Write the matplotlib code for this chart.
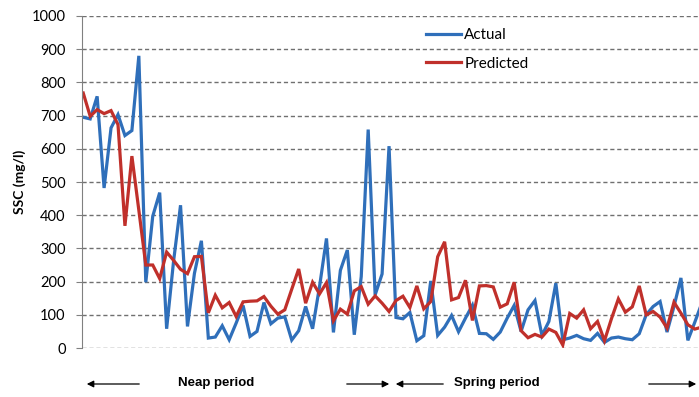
import matplotlib.pyplot as plt
import numpy as np

# SSC series, one value per sample
actual = [695, 690, 758, 482, 663, 703, 640, 655, 880, 198,
          397, 468, 58, 262, 430, 65, 225, 323, 30, 33,
          67, 25, 75, 128, 35, 50, 137, 73, 90, 94,
          24, 52, 125, 58, 185, 330, 47, 234, 295, 40,
          215, 658, 160, 223, 608, 92, 88, 107, 22, 37,
          202, 38, 63, 98, 49, 90, 129, 44, 43, 26,
          48, 90, 128, 50, 115, 143, 38, 80, 195, 25,
          30, 38, 28, 23, 44, 17, 30, 33, 28, 25,
          43, 100, 125, 140, 48, 125, 211, 23, 78, 135]
predicted = [768, 698, 718, 706, 715, 673, 368, 578, 415, 250,
             250, 209, 289, 264, 237, 224, 275, 276, 106, 159,
             121, 137, 95, 139, 141, 142, 155, 126, 102, 115,
             177, 238, 135, 198, 163, 197, 82, 117, 102, 172,
             185, 132, 157, 135, 110, 143, 156, 122, 187, 118,
             140, 275, 320, 145, 152, 204, 83, 187, 188, 184,
             123, 133, 198, 52, 31, 41, 33, 57, 47, 9,
             104, 90, 115, 58, 80, 22, 88, 148, 108, 124,
             187, 100, 110, 93, 60, 138, 105, 70, 57, 63]
series_names = ['Actual', 'Predicted']
yticks = list(range(0, 1001, 100))

blue = '#2f6fba'
red = '#c0302b'

fig = plt.figure(figsize=(6.99, 3.97), dpi=100)
ax = fig.add_axes([0.1166, 0.1234, 0.8834, 0.8363])

x = np.arange(len(actual))
ax.plot(x, actual, color=blue, lw=2.3, label=series_names[0], solid_joinstyle='miter')
ax.plot(x, predicted, color=red, lw=2.3, label=series_names[1], solid_joinstyle='miter')

ax.set_xlim(-0.25, 88.6)
ax.set_ylim(0, 1000)
ax.set_yticks(yticks)
ax.set_yticklabels([str(t) for t in yticks], fontfamily='Lato', fontsize=10.5)
ax.set_xticks([])
ax.grid(axis='y', color='#707070', linestyle=(0, (3, 2)), linewidth=1)
ax.set_axisbelow(True)
for s in ['top', 'right', 'bottom']:
    ax.spines[s].set_visible(False)
ax.spines['left'].set_color('#808080')
ax.tick_params(axis='y', length=4, color='#808080', pad=7.5)
ax.set_ylabel('SSC (mg/l)', fontsize=10, fontweight='bold', fontfamily='Lato', labelpad=4)

leg = ax.legend(loc='upper left', bbox_to_anchor=(0.536, 1.005), frameon=False,
                prop={'family': 'Lato', 'size': 11}, handlelength=2.3,
                handletextpad=0.2, labelspacing=0.95)

# period markers under the chart
yb = 1 - 384 / 397
arrow = dict(arrowstyle='-|>', color='black', lw=0.9, mutation_scale=10)
ax.annotate('', xy=(84 / 699, yb), xytext=(142 / 699, yb), xycoords='figure fraction', arrowprops=arrow)
ax.annotate('', xy=(392 / 699, yb), xytext=(344 / 699, yb), xycoords='figure fraction', arrowprops=arrow)
ax.annotate('', xy=(393 / 699, yb), xytext=(446 / 699, yb), xycoords='figure fraction', arrowprops=arrow)
ax.annotate('', xy=(699 / 699, yb), xytext=(646 / 699, yb), xycoords='figure fraction', arrowprops=arrow)
fig.text(216 / 699, 1 - 383 / 397, 'Neap period', ha='center', va='center',
         fontsize=9.5, fontweight='bold', family='Liberation Sans')
fig.text(497 / 699, 1 - 383 / 397, 'Spring period', ha='center', va='center',
         fontsize=9.5, fontweight='bold', family='Liberation Sans')

fig.savefig('out.png', dpi=100)
